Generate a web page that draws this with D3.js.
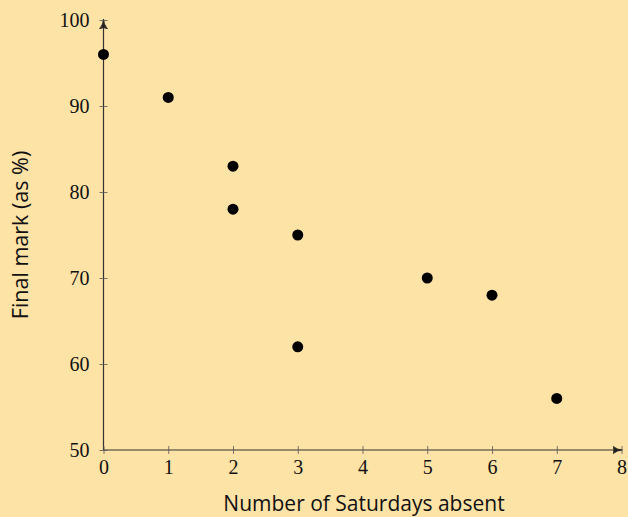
<!DOCTYPE html>
<html><head><meta charset="utf-8">
<script src="https://cdn.jsdelivr.net/npm/d3@7"></script>
<style>html,body{margin:0;padding:0;background:#FEE3A7;}svg{display:block;}</style>
</head><body>
<script>
const saturdaysAbsent = [0, 1, 2, 2, 3, 3, 5, 6, 7];
const finalMark = [96, 91, 83, 78, 75, 62, 70, 68, 56];
const xTicks = [0, 1, 2, 3, 4, 5, 6, 7, 8];
const yTicks = [50, 60, 70, 80, 90, 100];
const xLabel = "Number of Saturdays absent";
const yLabel = "Final mark (as %)";

const W = 628, H = 517;
const svg = d3.select("body").append("svg").attr("width", W).attr("height", H);
svg.append("rect").attr("width", W).attr("height", H).attr("fill", "#FEE3A7");

const x = d3.scaleLinear().domain([0, 8]).range([103.5, 621.5]);
const y = d3.scaleLinear().domain([50, 100]).range([450, 20]);
const ink = "#333";

svg.append("defs").append("marker").attr("id", "arr")
  .attr("viewBox", "0 0 10 10").attr("refX", 9).attr("refY", 5)
  .attr("markerWidth", 10).attr("markerHeight", 10).attr("markerUnits", "userSpaceOnUse")
  .attr("orient", "auto")
  .append("path").attr("d", "M0,1 Q5,5 10,5 Q5,5 0,9 Q3,5 0,1 Z").attr("fill", "#222").attr("stroke", "#222").attr("stroke-width", 0.8);

svg.append("line").attr("x1", x(0)).attr("x2", x(8)).attr("y1", y(50)).attr("y2", y(50))
  .attr("stroke", ink).attr("stroke-width", 1.2).attr("marker-end", "url(#arr)");
svg.append("line").attr("x1", x(0)).attr("x2", x(0)).attr("y1", y(50)).attr("y2", y(100))
  .attr("stroke", ink).attr("stroke-width", 1.2).attr("marker-end", "url(#arr)");

const tickFont = "Liberation Serif, serif";
const xAxis = d3.axisBottom(x).tickValues(xTicks).tickSize(0).tickPadding(10).tickFormat(d3.format("d"));
const gx = svg.append("g").attr("transform", `translate(0,${y(50)})`).call(xAxis);
gx.select(".domain").remove();
gx.selectAll(".tick line").remove();
gx.selectAll(".tick").append("line").attr("y1", -4).attr("y2", 4).attr("stroke", "#555").attr("stroke-width", 0.8);
gx.selectAll("text").attr("font-family", tickFont).attr("font-size", 20).attr("fill", "#111").attr("dy", "0.72em");

const yAxis = d3.axisLeft(y).tickValues(yTicks).tickSize(0).tickPadding(14).tickFormat(d3.format("d"));
const gy = svg.append("g").attr("transform", `translate(${x(0)},0)`).call(yAxis);
gy.select(".domain").remove();
gy.selectAll(".tick line").remove();
gy.selectAll(".tick").append("line").attr("x1", -4).attr("x2", 4).attr("stroke", "#555").attr("stroke-width", 0.8);
gy.selectAll("text").attr("font-family", tickFont).attr("font-size", 20).attr("fill", "#111");

svg.selectAll("circle.pt").data(saturdaysAbsent).enter().append("circle")
  .attr("class", "pt")
  .attr("cx", d => x(d)).attr("cy", (d, i) => y(finalMark[i])).attr("r", 5.5).attr("fill", "#000");

svg.append("text").attr("x", 364).attr("y", 511)
  .attr("text-anchor", "middle").attr("font-family", "Open Sans, sans-serif").attr("font-size", 21).attr("fill", "#111")
  .text(xLabel);
svg.append("text").attr("transform", `translate(28,235) rotate(-90)`)
  .attr("text-anchor", "middle").attr("font-family", "Open Sans, sans-serif").attr("font-size", 21.5).attr("fill", "#111")
  .text(yLabel);
</script>
</body></html>
